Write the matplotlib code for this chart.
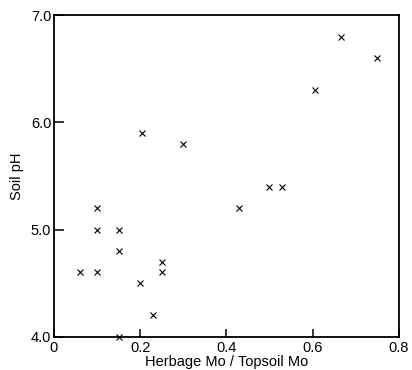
import matplotlib
matplotlib.use("Agg")
import matplotlib.pyplot as plt

plt.rcParams['font.family'] = ['Liberation Sans', 'DejaVu Sans']

# Herbage Mo / Topsoil Mo ratio vs soil pH
ratio = [0.06, 0.10, 0.10, 0.10, 0.15, 0.15, 0.15, 0.20, 0.205, 0.23,
         0.25, 0.25, 0.30, 0.43, 0.50, 0.53, 0.605, 0.665, 0.75]
soil_ph = [4.6, 5.2, 5.0, 4.6, 5.0, 4.8, 4.0, 4.5, 5.9, 4.2,
           4.7, 4.6, 5.8, 5.2, 5.4, 5.4, 6.3, 6.8, 6.6]

xticks = [0, 0.2, 0.4, 0.6, 0.8]
xlabels = ['0', '0.2', '0.4', '0.6', '0.8']
yticks = [4.0, 5.0, 6.0, 7.0]
ylabels = ['4.0', '5.0', '6.0', '7.0']

fig = plt.figure(figsize=(4.12, 3.70), dpi=100)
ax = fig.add_axes([0.131, 0.090, 0.837, 0.869])

ax.plot(ratio, soil_ph, linestyle='none', marker='x', color='black',
        markersize=4, markeredgewidth=0.8, clip_on=False)

ax.set_xlim(0, 0.8)
ax.set_ylim(4.0, 7.0)
ax.set_xticks(xticks)
ax.set_xticklabels(xlabels)
ax.set_yticks(yticks)
ax.set_yticklabels(ylabels)
ax.tick_params(direction='in', length=7, width=1.1, labelsize=10.5, pad=2,
               colors='black')
ax.tick_params(axis='x', length=6, pad=3)

for sp in ax.spines.values():
    sp.set_linewidth(1.3)

ax.set_xlabel('Herbage Mo / Topsoil Mo', fontsize=10.5, labelpad=0)
ax.set_ylabel('Soil pH', fontsize=10.5, labelpad=5)

fig.savefig('out.png', dpi=100)
